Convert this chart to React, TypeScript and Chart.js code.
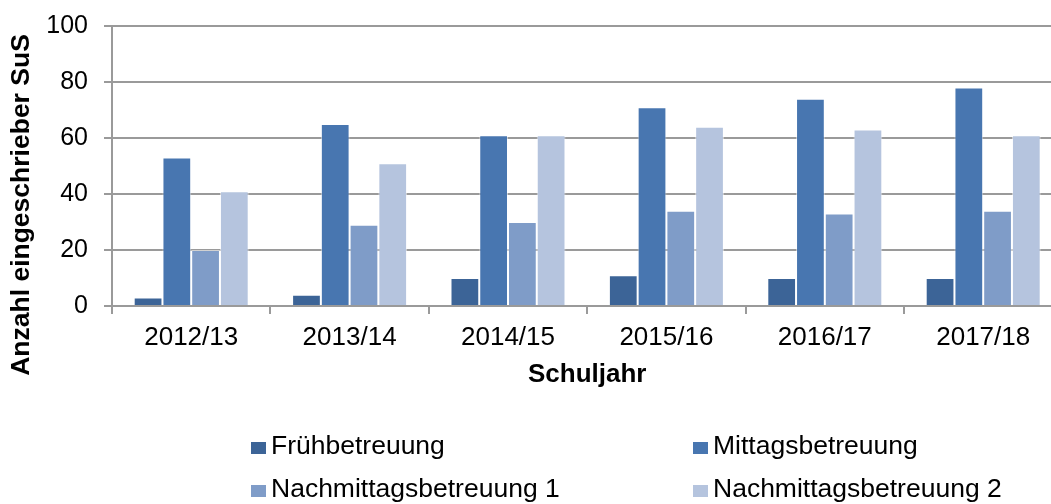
import React, { useEffect, useRef } from "react";
import { Chart, registerables } from "chart.js";

Chart.register(...registerables);

const categories = ["2012/13", "2013/14", "2014/15", "2015/16", "2016/17", "2017/18"];
const seriesNames = ["Frühbetreuung", "Mittagsbetreuung", "Nachmittagsbetreuung 1", "Nachmittagsbetreuung 2"];
const fruehbetreuung = [3, 4, 10, 11, 10, 10];
const mittagsbetreuung = [53, 65, 61, 71, 74, 78];
const nachmittag1 = [20, 29, 30, 34, 33, 34];
const nachmittag2 = [41, 51, 61, 64, 63, 61];
const seriesColors = ["#3C6497", "#4876B0", "#7F9CC8", "#B5C4DE"];
const yTickValues = [0, 20, 40, 60, 80, 100];
const yTitle = "Anzahl eingeschrieber SuS";
const xTitle = "Schuljahr";

const FONT = "'Liberation Sans', Arial, sans-serif";

const extrasPlugin = {
  id: "extras",
  afterDraw(chart: any) {
    const ctx = chart.ctx;
    ctx.save();
    // y axis title
    ctx.fillStyle = "#000";
    ctx.font = `bold 26.5px ${FONT}`;
    ctx.textAlign = "center";
    ctx.textBaseline = "middle";
    ctx.translate(22, 205);
    ctx.rotate(-Math.PI / 2);
    ctx.fillText(yTitle, 0, 0);
    ctx.restore();

    // legend
    ctx.save();
    const cols = [251, 693];
    const rows = [447, 490];
    ctx.font = `26.5px ${FONT}`;
    ctx.textAlign = "left";
    ctx.textBaseline = "middle";
    chart.data.datasets.forEach((ds: any, i: number) => {
      const x = cols[i % 2];
      const y = rows[Math.floor(i / 2)];
      ctx.fillStyle = ds.backgroundColor;
      ctx.fillRect(x, y - 5, 15, 12);
      ctx.fillStyle = "#000";
      ctx.fillText(ds.label, x + 20, y);
    });
    ctx.restore();
  },
};

export default function App() {
  const ref = useRef<HTMLCanvasElement | null>(null);
  useEffect(() => {
    if (!ref.current) return;
    const values = [fruehbetreuung, mittagsbetreuung, nachmittag1, nachmittag2];
    const chart = new Chart(ref.current, {
      type: "bar",
      data: {
        labels: categories,
        datasets: seriesNames.map((name, i) => ({
          label: name,
          data: values[i],
          backgroundColor: seriesColors[i],
          borderColor: "rgba(255,255,255,0.55)",
          borderWidth: 1,
          categoryPercentage: 0.726,
          barPercentage: 1,
        })),
      },
      options: {
        responsive: false,
        animation: false,
        layout: { padding: { left: 0, top: 26, right: 12.6, bottom: 110 } },
        plugins: { legend: { display: false }, tooltip: { enabled: false }, title: { display: false } },
        scales: {
          x: {
            offset: true,
            grid: { display: true, drawOnChartArea: false, offset: true, tickLength: 8, color: "#9a9a9a", lineWidth: 2 },
            border: { display: true, color: "#9a9a9a", width: 2 },
            ticks: { color: "#000", font: { family: FONT, size: 26 }, padding: 8, maxRotation: 0, autoSkip: false },
            title: { display: true, text: xTitle, color: "#000", font: { family: FONT, size: 26, weight: "bold" }, padding: { top: 4, bottom: 4 } },
            afterFit: (scale: any) => { scale.height = 88; scale.paddingLeft = 0; scale.paddingRight = 0; },
          },
          y: {
            min: 0,
            max: 100,
            afterBuildTicks: (scale: any) => { scale.ticks = yTickValues.map((v) => ({ value: v })); },
            grid: { color: "#9a9a9a", lineWidth: 2, tickLength: 8 },
            border: { display: true, color: "#9a9a9a", width: 2 },
            ticks: { color: "#000", font: { family: FONT, size: 25 }, padding: 16 },
            afterFit: (scale: any) => { scale.width = 112; scale.paddingTop = 0; scale.paddingBottom = 0; },
          },
        },
      },
      plugins: [extrasPlugin],
    });
    return () => chart.destroy();
  }, []);
  return (
    <div style={{ position: "fixed", left: 0, top: 0, width: 1051, height: 504, overflow: "hidden", background: "#fff" }}>
      <canvas ref={ref} width={1075} height={504} />
    </div>
  );
}
